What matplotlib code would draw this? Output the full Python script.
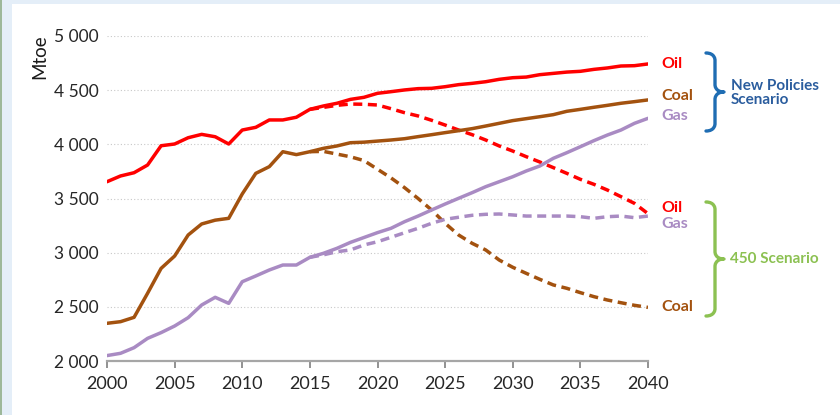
import numpy as np
import matplotlib.pyplot as plt
from matplotlib.path import Path
from matplotlib.patches import PathPatch, Rectangle

plt.rcParams['font.family'] = ['Lato', 'DejaVu Sans']

years = list(range(2000, 2041))
years_450 = list(range(2015, 2041))

oil_nps = [3655, 3708, 3738, 3809, 3987, 4003, 4061, 4092, 4070, 4003,
           4132, 4157, 4225, 4225, 4250, 4323, 4354, 4379, 4415, 4434,
           4471, 4486, 4502, 4514, 4517, 4532, 4551, 4563, 4578, 4600,
           4615, 4621, 4643, 4655, 4667, 4674, 4692, 4705, 4723, 4726, 4742]
coal_nps = [2348, 2363, 2403, 2625, 2855, 2969, 3163, 3265, 3300, 3317,
            3542, 3732, 3794, 3932, 3905, 3932, 3963, 3985, 4015, 4020,
            4030, 4040, 4052, 4071, 4089, 4108, 4126, 4145, 4169, 4194,
            4219, 4237, 4255, 4274, 4305, 4323, 4342, 4360, 4379, 4394, 4410]
gas_nps = [2050, 2071, 2123, 2209, 2262, 2323, 2400, 2517, 2588, 2532,
           2732, 2785, 2840, 2886, 2886, 2957, 2994, 3040, 3095, 3140,
           3185, 3225, 3286, 3338, 3394, 3449, 3502, 3554, 3609, 3655,
           3701, 3754, 3800, 3871, 3923, 3978, 4034, 4086, 4132, 4194, 4240]

oil_450 = [4323, 4341, 4360, 4372, 4370, 4363, 4329, 4292, 4262, 4222,
           4178, 4132, 4089, 4040, 3985, 3938, 3886, 3837, 3785, 3732,
           3677, 3631, 3578, 3517, 3455, 3360]
coal_450 = [3932, 3935, 3910, 3885, 3850, 3770, 3690, 3600, 3500, 3394,
            3271, 3163, 3086, 3025, 2932, 2865, 2809, 2754, 2702, 2671,
            2631, 2594, 2563, 2538, 2514, 2495]
gas_450 = [2957, 2980, 3009, 3025, 3071, 3101, 3142, 3184, 3225, 3271,
           3308, 3327, 3345, 3354, 3357, 3348, 3338, 3338, 3338, 3338,
           3332, 3317, 3332, 3338, 3323, 3338]

RED = '#FF0000'
BROWN = '#A3520F'
PURPLE = '#A98BC3'
BLUE = '#1F6DB3'
BLUE_TXT = '#2B5D9E'
GREEN = '#8CC152'

W, H = 840, 415
fig = plt.figure(figsize=(W / 100, H / 100), dpi=100)
fig.patch.set_facecolor('white')

# light blue frame strips
fig.patches.append(Rectangle((0, 1 - 4 / H), 1, 4 / H, transform=fig.transFigure,
                             facecolor='#E4EEF8', edgecolor='none', zorder=0))
fig.patches.append(Rectangle((0, 0), 12 / W, 1, transform=fig.transFigure,
                             facecolor='#E4EEF8', edgecolor='none', zorder=0))
fig.patches.append(Rectangle((0, 0), 1.5 / W, 1, transform=fig.transFigure,
                             facecolor='#9DB89A', edgecolor='none', zorder=0))


def px(x, y):
    return x / W, 1 - y / H


l, b = px(107, 361)
r, t = px(648, 36)
ax = fig.add_axes([l, b, r - l, t - b])

lw = 2.5
dash = (0, (2.6, 1.6))
ax.plot(years, oil_nps, color=RED, lw=lw, solid_capstyle='round', zorder=4)
ax.plot(years, coal_nps, color=BROWN, lw=lw, solid_capstyle='round', zorder=4)
ax.plot(years, gas_nps, color=PURPLE, lw=lw, solid_capstyle='round', zorder=4)
ax.plot(years_450, oil_450, color=RED, lw=lw, ls=dash, zorder=3)
ax.plot(years_450, coal_450, color=BROWN, lw=lw, ls=dash, zorder=3)
ax.plot(years_450, gas_450, color=PURPLE, lw=lw, ls=dash, zorder=3)

ax.set_xlim(2000, 2040)
ax.set_ylim(2000, 5000)
ax.set_xticks(range(2000, 2041, 5))
yt = list(range(2000, 5001, 500))
ax.set_yticks(yt)
ax.set_yticklabels([f'{v // 1000} {v % 1000:03d}' for v in yt])
ax.tick_params(axis='y', length=0, pad=6, labelsize=12.5, labelcolor='#262626')
ax.tick_params(axis='x', length=5, width=1.2, color='#7F7F7F', direction='out',
               pad=6, labelsize=13, labelcolor='#262626')
for s in ['top', 'right', 'left']:
    ax.spines[s].set_visible(False)
ax.spines['bottom'].set_color('#A6A6A6')
ax.spines['bottom'].set_linewidth(1.6)
ax.yaxis.grid(True, color='#C8C8C8', ls=(0, (1, 2)), lw=0.8)
ax.set_axisbelow(True)
for gl in ax.yaxis.get_gridlines()[:1]:
    gl.set_visible(False)
ax.set_ylabel('Mtoe', fontsize=13.5, color='#1A1A1A')
fx, fy = px(40, 57)
ax.yaxis.set_label_coords(fx, fy, transform=fig.transFigure)
ax.yaxis.label.set_va('center')


# series labels
def label(x, y, s, c):
    fx, fy = px(x, y)
    fig.text(fx, fy, s, color=c, fontsize=11.5, fontweight='bold', va='center', ha='left')


label(661, 64, 'Oil', RED)
label(661, 96, 'Coal', BROWN)
label(661, 116, 'Gas', PURPLE)
label(661, 208, 'Oil', RED)
label(661, 224, 'Gas', PURPLE)
label(661, 307, 'Coal', BROWN)


def brace(x0, x1, ytop, ybot, color):
    xm = (x0 + x1) / 2
    ymid = (ytop + ybot) / 2
    rr = 7
    verts = [(x0, ytop), (xm, ytop), (xm, ytop + rr), (xm, ytop + rr),
             (xm, ymid - rr), (xm, ymid - rr), (xm, ymid), (x1, ymid),
             (xm, ymid), (xm, ymid + rr), (xm, ymid + rr),
             (xm, ybot - rr), (xm, ybot - rr), (xm, ybot), (x0, ybot)]
    codes = [Path.MOVETO, Path.CURVE4, Path.CURVE4, Path.CURVE4,
             Path.LINETO, Path.CURVE4, Path.CURVE4, Path.CURVE4,
             Path.CURVE4, Path.CURVE4, Path.CURVE4,
             Path.LINETO, Path.CURVE4, Path.CURVE4, Path.CURVE4]
    verts = [px(x, y) for x, y in verts]
    fig.patches.append(PathPatch(Path(verts, codes), transform=fig.transFigure,
                                 facecolor='none', edgecolor=color, lw=2.4,
                                 capstyle='round', joinstyle='round'))


brace(706, 724, 53, 131, BLUE)
brace(706, 724, 202, 316, GREEN)

fx, fy = px(731, 93)
fig.text(fx, fy, 'New Policies\nScenario', color=BLUE_TXT, fontsize=11,
         fontweight='bold', va='center', ha='left', linespacing=1.0)
fx, fy = px(730, 259)
fig.text(fx, fy, '450 Scenario', color=GREEN, fontsize=11,
         fontweight='bold', va='center', ha='left')

fig.savefig('out.png', dpi=100)
